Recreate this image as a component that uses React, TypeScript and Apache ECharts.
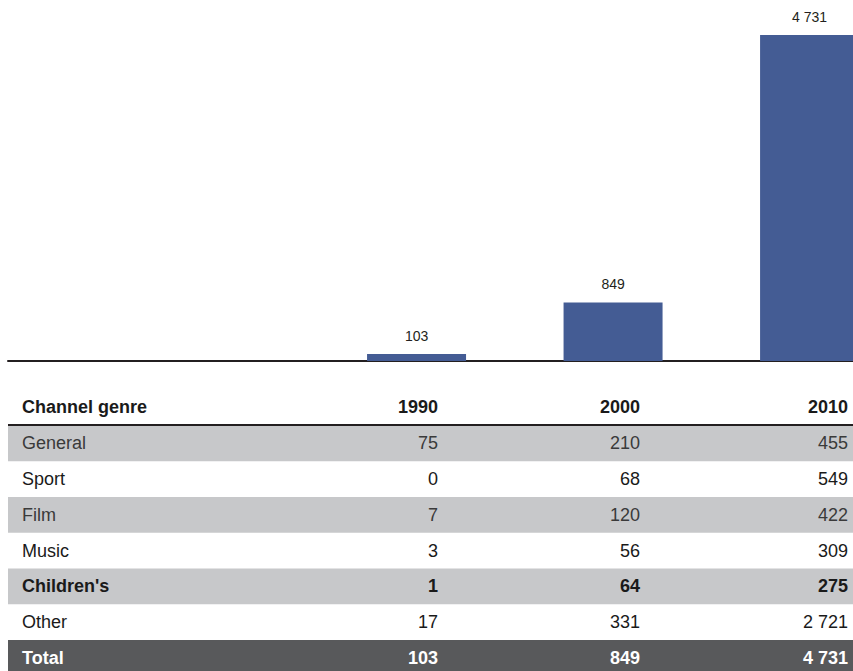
import React, { useEffect, useRef } from "react";
import * as echarts from "echarts";

const years = [1990, 2000, 2010];
const totals = [103, 849, 4731];
const headerLabel = "Channel genre";
const totalLabel = "Total";
const genres = ["General", "Sport", "Film", "Music", "Children's", "Other"];
const values1990 = [75, 0, 7, 3, 1, 17];
const values2000 = [210, 68, 120, 56, 64, 331];
const values2010 = [455, 549, 422, 309, 275, 2721];
const boldRows = ["Children's"];

const FONT = "'Liberation Sans', Arial, Helvetica, sans-serif";
const fmt = (v: number) => String(v).replace(/\B(?=(\d{3})+(?!\d))/g, " ");

export default function App() {
  const ref = useRef<HTMLDivElement>(null);
  useEffect(() => {
    if (!ref.current) return;
    const chart = echarts.init(ref.current, null, { renderer: "svg" });

    const colX = [438, 640, 848];
    const left = 8;
    const right = 853;
    const rowTop0 = 425.5;
    const rowH = 35.75;
    const graphics: any[] = [];

    const text = (str: string, x: number, y: number, align: string, bold: boolean, fill: string) => ({
      type: "text",
      silent: true,
      z: 10,
      style: {
        text: str,
        x,
        y,
        align,
        textAlign: align,
        verticalAlign: "middle",
        textVerticalAlign: "middle",
        fontSize: 18,
        fontWeight: bold ? "bold" : "normal",
        fontFamily: FONT,
        fill,
      },
    });

    // header
    const headerY = 407;
    graphics.push(text(headerLabel, 22, headerY, "left", true, "#1a1a1a"));
    years.forEach((y, j) => graphics.push(text(String(y), colX[j], headerY, "right", true, "#1a1a1a")));

    const cols = [values1990, values2000, values2010];
    genres.forEach((g, i) => {
      const top = rowTop0 + i * rowH;
      const gray = i % 2 === 0;
      if (gray) {
        graphics.push({
          type: "rect",
          silent: true,
          z: 1,
          shape: { x: left, y: top, width: right - left, height: rowH },
          style: { fill: "#c7c8ca" },
        });
      }
      const bold = boldRows.includes(g);
      const fill = bold ? "#1a1a1a" : gray ? "#3a3a3a" : "#1a1a1a";
      const cy = top + rowH / 2;
      graphics.push(text(g, 22, cy, "left", bold, fill));
      cols.forEach((c, j) => graphics.push(text(fmt(c[i]), colX[j], cy, "right", bold, fill)));
    });

    // total row
    const totTop = rowTop0 + genres.length * rowH;
    graphics.push({
      type: "rect",
      silent: true,
      z: 1,
      shape: { x: left, y: totTop, width: right - left, height: 671 - totTop },
      style: { fill: "#58595b" },
    });
    const totCy = totTop + rowH / 2;
    graphics.push(text(totalLabel, 22, totCy, "left", true, "#ffffff"));
    totals.forEach((t, j) => graphics.push(text(fmt(t), colX[j], totCy, "right", true, "#ffffff")));

    // header rule
    graphics.push({
      type: "line",
      silent: true,
      z: 5,
      shape: { x1: left, y1: 425, x2: right, y2: 425 },
      style: { stroke: "#231f20", lineWidth: 2 },
    });

    chart.setOption({
      animation: false,
      grid: { left: 8, right: 0, top: 35, bottom: 310 },
      xAxis: {
        type: "value",
        min: 1969.21,
        max: 2012.21,
        axisLine: { show: true, onZero: false, lineStyle: { color: "#231f20", width: 2 } },
        axisTick: { show: false },
        axisLabel: { show: false },
        splitLine: { show: false },
      },
      yAxis: {
        type: "value",
        min: 0,
        max: 4731,
        show: false,
        splitLine: { show: false },
      },
      series: [
        {
          type: "bar",
          data: years.map((y, i) => [y, totals[i]]),
          barWidth: 99,
          itemStyle: { color: "#445c94" },
          label: {
            show: true,
            position: "top",
            distance: 11,
            fontSize: 14,
            fontFamily: FONT,
            color: "#231f20",
            formatter: (p: any) => fmt(p.value[1]),
          },
        },
      ],
      graphic: graphics,
    });
    return () => chart.dispose();
  }, []);

  return (
    <div
      ref={ref}
      style={{ position: "absolute", left: 0, top: 0, width: 853, height: 671 }}
    />
  );
}
